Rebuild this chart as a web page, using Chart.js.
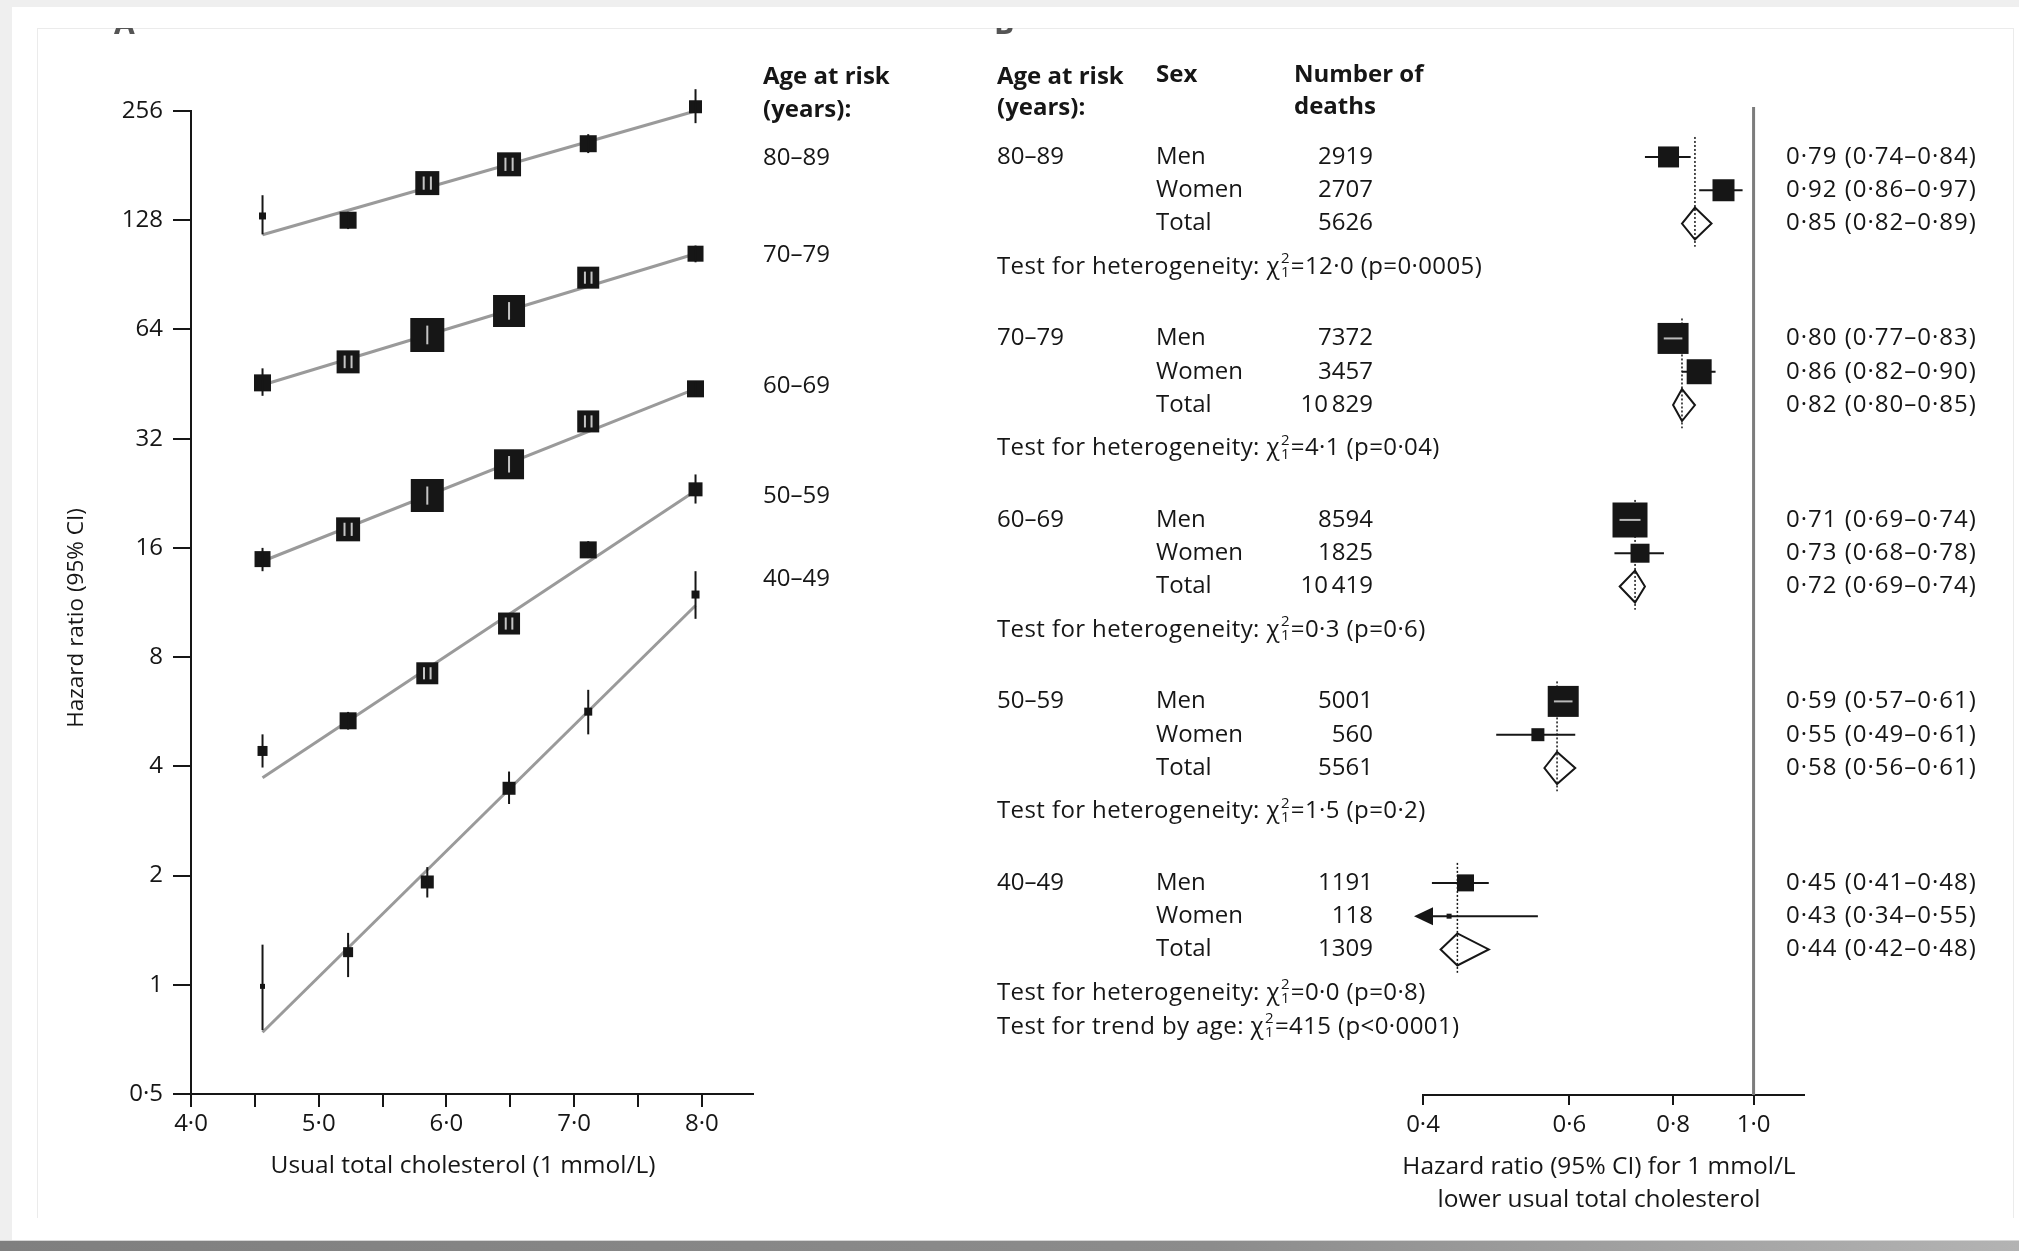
<!DOCTYPE html>
<html>
<head>
<meta charset="utf-8">
<title>Cholesterol and vascular mortality by age</title>
<script src="https://cdn.jsdelivr.net/npm/chart.js@4.4.1/dist/chart.umd.min.js"></script>
<style>
  html, body { margin: 0; padding: 0; }
  body { width: 2019px; height: 1251px; background: #efefef; position: relative; overflow: hidden; }
  #sheet { position: absolute; left: 12px; top: 7px; width: 2007px; height: 1233px; background: #fff; }
  .rule { position: absolute; background: #ebebeb; }
  #base { position: absolute; left: 0; top: 1240px; width: 2019px; height: 11px;
          background: linear-gradient(to right, #7f7f7f, #8c8c8c 60%, #b3b3b3); border-top: 1px solid #d6d6d6; }
  canvas { position: absolute; top: 0; }
  #panelA { left: 0; }
  #panelB { left: 980px; }
</style>
</head>
<body>
<div id="sheet"></div>
<div class="rule" style="left:37px;top:28px;width:1976px;height:1px"></div>
<div class="rule" style="left:37px;top:28px;width:1px;height:1190px"></div>
<div class="rule" style="left:2013px;top:28px;width:1px;height:1190px"></div>
<div id="base"></div>
<canvas id="panelA" width="980" height="1251"></canvas>
<canvas id="panelB" width="1039" height="1251"></canvas>

<script>
// ---------- Panel A: hazard ratio by usual total cholesterol ----------
const cholesterol = [4.56, 5.23, 5.85, 6.49, 7.11, 7.95];
const ageGroups = ['80–89', '70–79', '60–69', '50–59', '40–49'];

const hr80 = [131.5, 128, 162, 182.5, 208, 263];
const lo80 = [117, 121, 153, 174, 196, 237];
const hi80 = [150, 135, 171, 192, 221, 294];
const fit80 = [116.7, 256];

const hr70 = [45.6, 52.1, 61.8, 72.0, 88.9, 103.5];
const lo70 = [42, 49.5, 59, 69, 85, 98];
const hi70 = [50, 55, 65, 75, 93, 109];
const fit70 = [45.0, 103.5];

const hr60 = [14.9, 18.0, 22.3, 27.2, 35.7, 43.9];
const lo60 = [13.8, 17.2, 21.5, 26.2, 34.2, 41.8];
const hi60 = [16.0, 18.8, 23.1, 28.2, 37.2, 46.1];
const fit60 = [14.7, 43.9];

const hr50 = [4.41, 5.34, 7.22, 9.9, 15.8, 23.2];
const lo50 = [3.97, 5.05, 6.9, 9.45, 15.0, 21.2];
const hi50 = [4.9, 5.65, 7.55, 10.35, 16.7, 25.5];
const fit50 = [3.72, 23.0];

const hr40 = [0.99, 1.23, 1.92, 3.48, 5.66, 11.9];
const lo40 = [0.75, 1.05, 1.74, 3.15, 4.9, 10.2];
const hi40 = [1.29, 1.39, 2.11, 3.87, 6.5, 13.8];
const fit40 = [0.74, 11.1];

const yTickValues = [0.5, 1, 2, 4, 8, 16, 32, 64, 128, 256];

// ---------- Panel B: hazard ratio per 1 mmol/L lower cholesterol ----------
const sexLabels = ['Men', 'Women', 'Total'];
const deaths80 = [2919, 2707, 5626];
const deaths70 = [7372, 3457, 10829];
const deaths60 = [8594, 1825, 10419];
const deaths50 = [5001, 560, 5561];
const deaths40 = [1191, 118, 1309];

const hrB80 = [0.79, 0.92, 0.85], loB80 = [0.74, 0.86, 0.82], hiB80 = [0.84, 0.97, 0.89];
const hrB70 = [0.80, 0.86, 0.82], loB70 = [0.77, 0.82, 0.80], hiB70 = [0.83, 0.90, 0.85];
const hrB60 = [0.71, 0.73, 0.72], loB60 = [0.69, 0.68, 0.69], hiB60 = [0.74, 0.78, 0.74];
const hrB50 = [0.59, 0.55, 0.58], loB50 = [0.57, 0.49, 0.56], hiB50 = [0.61, 0.61, 0.61];
const hrB40 = [0.45, 0.43, 0.44], loB40 = [0.41, 0.34, 0.42], hiB40 = [0.48, 0.55, 0.48];

const heterogeneityChi = [12.0, 4.1, 0.3, 1.5, 0.0];
const heterogeneityP = ['0.0005', '0.04', '0.6', '0.2', '0.8'];
const trendChi = 415;
const trendP = '<0.0001';
const forestTicks = [0.4, 0.6, 0.8, 1.0];

// ---------- styling ----------
const FONT = "'Open Sans', 'DejaVu Sans', sans-serif";
const INK = '#161616';
const TXT = 24;
const W = 500;               // text weight
Chart.defaults.font.family = FONT;
Chart.defaults.font.weight = W;
Chart.defaults.color = INK;
Chart.defaults.animation = false;

// square sides (px) for the estimates, proportional to their weight
const MARK_A = [[7, 17, 24, 24, 17, 13], [17, 23, 34, 32, 22, 16], [16, 24, 33, 30, 22, 17],
                [10, 17, 22, 22, 17, 14], [5, 10, 13, 13, 8, 8]];
const MARK_B = [[21, 22], [31, 25], [35, 19], [31, 13], [17, 5]];

const dot = s => String(s).replace('.', '·');
const f2 = v => dot(v.toFixed(2));
const fmtDeaths = n => n >= 10000 ? String(n).replace(/(\d+)(\d{3})$/, '$1\u2009$2') : String(n);

const groupsA = [
  { hr: hr80, lo: lo80, hi: hi80, fit: fit80 },
  { hr: hr70, lo: lo70, hi: hi70, fit: fit70 },
  { hr: hr60, lo: lo60, hi: hi60, fit: fit60 },
  { hr: hr50, lo: lo50, hi: hi50, fit: fit50 },
  { hr: hr40, lo: lo40, hi: hi40, fit: fit40 }
];
const groupsB = [
  { deaths: deaths80, hr: hrB80, lo: loB80, hi: hiB80 },
  { deaths: deaths70, hr: hrB70, lo: loB70, hi: hiB70 },
  { deaths: deaths60, hr: hrB60, lo: loB60, hi: hiB60 },
  { deaths: deaths50, hr: hrB50, lo: loB50, hi: hiB50 },
  { deaths: deaths40, hr: hrB40, lo: loB40, hi: hiB40 }
];

// ================= Panel A =================
const datasetsA = [];
groupsA.forEach((g, gi) => {
  datasetsA.push({
    label: ageGroups[gi] + ' trend',
    data: [{ x: cholesterol[0], y: g.fit[0] }, { x: cholesterol[cholesterol.length - 1], y: g.fit[1] }],
    showLine: true, borderColor: '#9a9a9a', borderWidth: 3, pointRadius: 0, order: 2, clip: false
  });
  datasetsA.push({
    label: ageGroups[gi],
    data: cholesterol.map((c, i) => ({ x: c, y: g.hr[i] })),
    pointStyle: 'rect', pointRadius: MARK_A[gi].map(s => s / Math.SQRT2),
    backgroundColor: INK, borderWidth: 0, order: 1, clip: false
  });
});

const panelAExtras = {
  id: 'panelAExtras',
  afterDatasetsDraw(chart) {
    const { ctx, scales: { x, y } } = chart;
    ctx.save();
    groupsA.forEach((g, gi) => {
      cholesterol.forEach((c, i) => {
        const px = x.getPixelForValue(c);
        ctx.strokeStyle = INK; ctx.lineWidth = 2;
        ctx.beginPath();
        ctx.moveTo(px, y.getPixelForValue(g.lo[i]));
        ctx.lineTo(px, y.getPixelForValue(g.hi[i]));
        ctx.stroke();
        const s = MARK_A[gi][i];
        if (s >= 18) {
          const py = y.getPixelForValue(g.hr[i]);
          const h = s * 0.55;
          ctx.strokeStyle = 'rgba(255,255,255,0.75)'; ctx.lineWidth = 2;
          (s >= 28 ? [0] : [-s * 0.15, s * 0.15]).forEach(o => {
            ctx.beginPath(); ctx.moveTo(px + o, py - h / 2); ctx.lineTo(px + o, py + h / 2); ctx.stroke();
          });
        }
      });
    });
    ctx.restore();
  },
  afterDraw(chart) {
    const { ctx } = chart;
    ctx.save();
    ctx.fillStyle = INK;
    ctx.textBaseline = 'middle';
    ctx.textAlign = 'left';
    ctx.font = `700 ${TXT}px ${FONT}`;
    ctx.fillText('Age at risk', 763, 77);
    ctx.fillText('(years):', 763, 110);
    ctx.font = `${W} ${TXT}px ${FONT}`;
    const labelY = [158, 255, 386, 496, 579];
    ageGroups.forEach((a, i) => ctx.fillText(a, 763, labelY[i]));

    // axis captions
    ctx.textAlign = 'center';
    ctx.font = `${W} 24.5px ${FONT}`;
    ctx.fillText('Usual total cholesterol (1 mmol/L)', 463, 1166);
    ctx.save();
    ctx.translate(77, 618);
    ctx.rotate(-Math.PI / 2);
    ctx.font = `${W} 22.5px ${FONT}`;
    ctx.fillText('Hazard ratio (95% CI)', 0, 0);
    ctx.restore();

    // panel letter, trimmed by the page edge
    ctx.beginPath(); ctx.rect(100, 28, 80, 7); ctx.clip();
    ctx.fillStyle = '#555';
    ctx.textAlign = 'left';
    ctx.font = `bold 30px ${FONT}`;
    ctx.textBaseline = 'alphabetic';
    ctx.fillText('A', 114, 34);
    ctx.restore();
  }
};

new Chart(document.getElementById('panelA'), {
  type: 'scatter',
  data: { datasets: datasetsA },
  options: {
    responsive: false,
    animation: false,
    layout: { padding: { left: 0, right: 227, top: 111, bottom: 0 } },
    plugins: { legend: { display: false }, tooltip: { enabled: false } },
    scales: {
      x: {
        type: 'linear', min: 4, max: 8.4,
        afterFit: s => { s.height = 157; },
        grid: { drawOnChartArea: false, drawTicks: true, tickLength: 13, color: INK, lineWidth: 2 },
        border: { display: true, color: INK, width: 2 },
        ticks: {
          stepSize: 0.5, includeBounds: false, autoSkip: false, maxRotation: 0, padding: 3,
          font: { size: TXT, weight: W }, color: INK,
          callback: v => Number.isInteger(v) ? dot(v.toFixed(1)) : ''
        }
      },
      y: {
        type: 'logarithmic', min: 0.5, max: 256,
        afterFit: s => { s.width = 191; },
        afterBuildTicks: s => { s.ticks = yTickValues.map(v => ({ value: v })); },
        grid: { drawOnChartArea: false, drawTicks: true, tickLength: 18, color: INK, lineWidth: 2 },
        border: { display: true, color: INK, width: 2 },
        ticks: { padding: 10, font: { size: TXT, weight: W }, color: INK, autoSkip: false, callback: v => dot(v) }
      }
    }
  },
  plugins: [panelAExtras]
});

// ================= Panel B =================
const GROUP_STEP = 5.45;     // rows between age groups
const TEST_ROW = 3.3;        // heterogeneity line below "Men"
const rowPos = (g, r) => g * GROUP_STEP + r;

const squaresB = [];
const radiiB = [];
groupsB.forEach((g, gi) => {
  [0, 1].forEach(r => {
    squaresB.push({ x: g.hr[r], y: rowPos(gi, r) });
    radiiB.push(MARK_B[gi][r] / Math.SQRT2);
  });
});

function drawChiLine(ctx, x, y, prefix, chi, p) {
  const big = `${W} ${TXT}px ${FONT}`;
  ctx.font = big;
  ctx.letterSpacing = '0.4px';
  ctx.fillText(prefix, x, y);
  let cx = x + ctx.measureText(prefix).width;
  ctx.fillText('χ', cx, y);
  cx += ctx.measureText('χ').width + 1;
  ctx.font = `${W} ${Math.round(TXT * 0.62)}px ${FONT}`;
  ctx.fillText('2', cx, y - 8);
  ctx.fillText('1', cx, y + 6);
  cx += ctx.measureText('2').width + 1;
  ctx.font = big;
  const rel = p.startsWith('<') ? '<' + dot(p.slice(1)) : '=' + dot(p);
  ctx.fillText('=' + chi + ' (p' + rel + ')', cx, y);
  ctx.letterSpacing = '0px';
}

const forestExtras = {
  id: 'forestExtras',
  beforeDatasetsDraw(chart) {
    const { ctx, chartArea, scales: { x, y } } = chart;
    ctx.save();
    // line of no effect
    const x1 = x.getPixelForValue(1);
    ctx.strokeStyle = '#7c7c7c'; ctx.lineWidth = 3;
    ctx.beginPath(); ctx.moveTo(x1, chartArea.top); ctx.lineTo(x1, chartArea.bottom); ctx.stroke();

    groupsB.forEach((g, gi) => {
      // overall estimate diamond
      const yc = y.getPixelForValue(rowPos(gi, 2));
      const xe = x.getPixelForValue(g.hr[2]);
      ctx.beginPath();
      ctx.moveTo(x.getPixelForValue(g.lo[2]), yc);
      ctx.lineTo(xe, yc - 16);
      ctx.lineTo(x.getPixelForValue(g.hi[2]), yc);
      ctx.lineTo(xe, yc + 16);
      ctx.closePath();
      ctx.fillStyle = '#fff'; ctx.fill();
      ctx.strokeStyle = INK; ctx.lineWidth = 2; ctx.stroke();

      // dotted line through the overall estimate
      ctx.save();
      ctx.setLineDash([2, 2]); ctx.lineWidth = 1.5; ctx.strokeStyle = INK;
      ctx.beginPath();
      ctx.moveTo(xe, y.getPixelForValue(rowPos(gi, -0.6)));
      ctx.lineTo(xe, y.getPixelForValue(rowPos(gi, 2.7)));
      ctx.stroke();
      ctx.restore();

      // confidence intervals for men and women
      [0, 1].forEach(r => {
        const yr = y.getPixelForValue(rowPos(gi, r));
        const clipped = g.lo[r] < x.min;
        const xl = x.getPixelForValue(clipped ? x.min : g.lo[r]);
        ctx.strokeStyle = INK; ctx.lineWidth = 2;
        ctx.beginPath(); ctx.moveTo(xl, yr); ctx.lineTo(x.getPixelForValue(g.hi[r]), yr); ctx.stroke();
        if (clipped) {
          ctx.fillStyle = INK;
          ctx.beginPath();
          ctx.moveTo(xl - 9, yr); ctx.lineTo(xl + 10, yr - 9); ctx.lineTo(xl + 10, yr + 9);
          ctx.closePath(); ctx.fill();
        }
      });
    });
    ctx.restore();
  },
  afterDatasetsDraw(chart) {
    const { ctx, scales: { x, y } } = chart;
    ctx.save();
    ctx.strokeStyle = 'rgba(255,255,255,0.7)'; ctx.lineWidth = 2;
    groupsB.forEach((g, gi) => {
      [0, 1].forEach(r => {
        const s = MARK_B[gi][r];
        if (s >= 28) {
          const px = x.getPixelForValue(g.hr[r]), py = y.getPixelForValue(rowPos(gi, r));
          ctx.beginPath(); ctx.moveTo(px - s * 0.3, py); ctx.lineTo(px + s * 0.3, py); ctx.stroke();
        }
      });
    });
    ctx.restore();
  },
  afterDraw(chart) {
    const { ctx, scales: { y } } = chart;
    const AGE_X = 17, SEX_X = 176, NUM_X = 314, DEATHS_R = 393, EST_X = 806;
    ctx.save();
    ctx.fillStyle = INK;
    ctx.textBaseline = 'middle';
    ctx.textAlign = 'left';
    ctx.font = `700 ${TXT}px ${FONT}`;
    ctx.fillText('Age at risk', AGE_X, 77);
    ctx.fillText('(years):', AGE_X, 108);
    ctx.fillText('Sex', SEX_X, 75);
    ctx.fillText('Number of', NUM_X, 75);
    ctx.fillText('deaths', NUM_X, 107);

    groupsB.forEach((g, gi) => {
      ctx.font = `${W} ${TXT}px ${FONT}`;
      ctx.textAlign = 'left';
      const y0 = y.getPixelForValue(rowPos(gi, 0));
      ctx.fillText(ageGroups[gi], AGE_X, y0);
      sexLabels.forEach((s, r) => {
        const yr = y.getPixelForValue(rowPos(gi, r));
        ctx.textAlign = 'left';
        ctx.fillText(s, SEX_X, yr);
        ctx.letterSpacing = '1px';
        ctx.fillText(`${f2(g.hr[r])} (${f2(g.lo[r])}–${f2(g.hi[r])})`, EST_X, yr);
        ctx.letterSpacing = '0px';
        ctx.textAlign = 'right';
        ctx.fillText(fmtDeaths(g.deaths[r]), DEATHS_R, yr);
      });
      ctx.textAlign = 'left';
      drawChiLine(ctx, AGE_X, y.getPixelForValue(rowPos(gi, TEST_ROW)), 'Test for heterogeneity: ',
                  dot(heterogeneityChi[gi].toFixed(1)), heterogeneityP[gi]);
    });
    drawChiLine(ctx, AGE_X, y.getPixelForValue(rowPos(4, TEST_ROW + 1.03)), 'Test for trend by age: ',
                String(trendChi), trendP);

    // axis caption
    ctx.font = `${W} 24.5px ${FONT}`;
    ctx.textAlign = 'center';
    ctx.fillText('Hazard ratio (95% CI) for 1 mmol/L', 619, 1167);
    ctx.fillText('lower usual total cholesterol', 619, 1200);

    // panel letter, trimmed by the page edge
    ctx.beginPath(); ctx.rect(0, 28, 80, 7); ctx.clip();
    ctx.fillStyle = '#555';
    ctx.textAlign = 'left';
    ctx.textBaseline = 'alphabetic';
    ctx.font = `bold 30px ${FONT}`;
    ctx.fillText('B', 14, 34);
    ctx.restore();
  }
};

new Chart(document.getElementById('panelB'), {
  type: 'scatter',
  data: {
    datasets: [{
      label: 'Men and women',
      data: squaresB,
      pointStyle: 'rect', pointRadius: radiiB,
      backgroundColor: INK, borderWidth: 0, clip: false
    }]
  },
  options: {
    responsive: false,
    animation: false,
    layout: { padding: { left: 443, right: 215, top: 107, bottom: 0 } },
    plugins: { legend: { display: false }, tooltip: { enabled: false } },
    scales: {
      x: {
        type: 'logarithmic', min: 0.4, max: 1.15,
        afterFit: s => { s.height = 156; },
        afterBuildTicks: s => { s.ticks = forestTicks.map(v => ({ value: v })); },
        grid: { drawOnChartArea: false, drawTicks: true, tickLength: 10, color: INK, lineWidth: 2 },
        border: { display: true, color: INK, width: 2 },
        ticks: { padding: 6, font: { size: TXT, weight: W }, color: INK, autoSkip: false, maxRotation: 0,
                 callback: v => dot(v.toFixed(1)) }
      },
      y: { type: 'linear', reverse: true, min: -1.5, max: 28.17, display: false }
    }
  },
  plugins: [forestExtras]
});
</script>
</body>
</html>
